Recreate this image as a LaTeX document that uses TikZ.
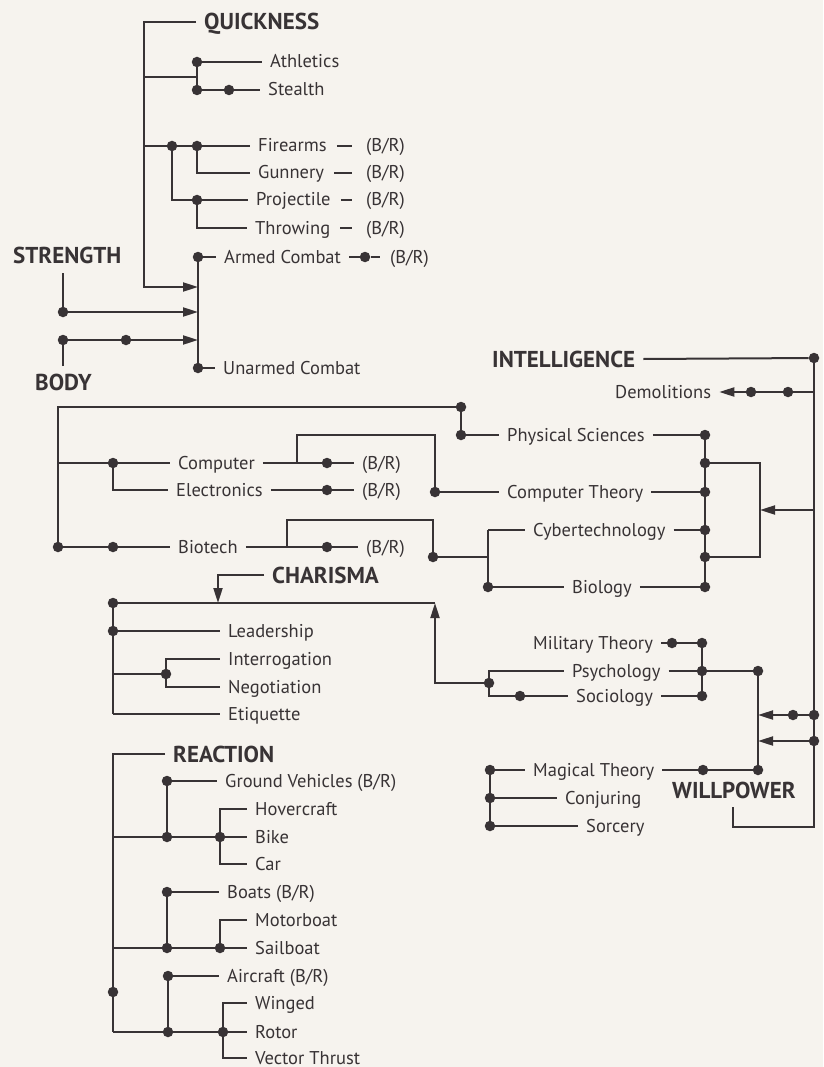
\documentclass[tikz,border=0pt]{standalone}
\usepackage{fontspec}
\setmainfont{PT Sans}
\usetikzlibrary{arrows.meta}
\definecolor{ink}{HTML}{383335}
\definecolor{paper}{HTML}{F6F3EE}
\begin{document}
\begin{tikzpicture}[x=1pt,y=-1pt,
  wire/.style={draw=ink, line width=2pt},
  arr/.style={wire, -{Triangle[length=15pt,width=9pt]}},
  dot/.style={circle, fill=ink, inner sep=0pt, minimum size=10.5pt},
  lbl/.style={anchor=west, inner xsep=8pt, inner ysep=0pt, text=ink, text height=12pt, text depth=0pt, font=\fontsize{18.5}{20}\selectfont},
  ttl/.style={anchor=west, inner xsep=8pt, inner ysep=0pt, text=ink, text height=16pt, text depth=0pt, font=\bfseries\fontsize{23}{26}\selectfont},
]
\fill[paper] (0,0) rectangle (823,1067);
\useasboundingbox (0,0) rectangle (823,1067);

% ================= QUICKNESS / STRENGTH / BODY =================
\node[ttl] (quick) at (196,22) {QUICKNESS};
\coordinate (qtop) at (144,22);
\coordinate (qbot) at (144,287);
\coordinate (cmb1) at (198,287);
\coordinate (cmb2) at (198,312);
\coordinate (cmb3) at (198,340);
\draw[arr] (quick.west) -- (qtop) -- (qbot) -- (cmb1);

\coordinate (q1) at (144,77);
\coordinate (q1j) at (197,77);
\node[dot] (dath) at (197,62) {};
\node[dot] (dste) at (197,90) {};
\node[dot] (dste2) at (229,90) {};
\node[lbl] (ath) at (262,62) {Athletics};
\node[lbl] (ste) at (260,90) {Stealth};
\draw[wire] (q1) -- (q1j);
\draw[wire] (dath) -- (dste);
\draw[wire] (dath) -- (ath.west);
\draw[wire] (dste) -- (dste2) -- (ste.west);

\coordinate (q2) at (144,146);
\node[dot] (dfa1) at (172,146) {};
\node[dot] (dfa2) at (197,146) {};
\node[dot] (dpro) at (197,200) {};
\node[lbl] (fire) at (250,146) {Firearms};
\node[lbl] (gun) at (250,173) {Gunnery};
\node[lbl] (pro) at (248,200) {Projectile};
\node[lbl] (thr) at (247,228) {Throwing};
\node[lbl] (firebr) at (358,146) {(B/R)};
\node[lbl] (gunbr) at (358,173) {(B/R)};
\node[lbl] (probr) at (358,200) {(B/R)};
\node[lbl] (thrbr) at (358,228) {(B/R)};
\draw[wire] (q2) -- (dfa1) -- (dfa2) -- (fire.west);
\draw[wire] (dfa2) |- (gun.west);
\draw[wire] (dfa1) |- (pro.west);
\draw[wire] (dpro) |- (thr.west);
\foreach \a/\b in {fire/firebr,gun/gunbr,pro/probr,thr/thrbr}
  \draw[wire, shorten <=2pt, shorten >=6pt] (\a.east) -- (\b.west);

\node[dot] (darm) at (198,257) {};
\node[dot] (dun) at (198,368) {};
\node[lbl] (arm) at (216,257) {Armed Combat};
\node[dot] (darm2) at (365,257) {};
\node[lbl] (armbr) at (382,257) {(B/R)};
\node[lbl] (unarm) at (215,368) {Unarmed Combat};
\draw[wire] (darm) -- (dun);
\draw[wire] (darm) -- (arm.west);
\draw[wire] (dun) -- (unarm.west);
\draw[wire, shorten <=1pt, shorten >=2pt] (arm.east) -- (darm2) -- (armbr.west);

\node[ttl] (str) at (5,255) {STRENGTH};
\coordinate (strb) at (63,273);
\node[dot] (dstr) at (63,312) {};
\draw[wire] (strb) -- (dstr);
\draw[arr] (dstr) -- (cmb2);

\node[ttl] (body) at (27,382) {BODY};
\coordinate (bodt) at (63,366);
\node[dot] (dbod) at (63,340) {};
\node[dot] (dbod2) at (126,340) {};
\draw[wire] (bodt) -- (dbod);
\draw[arr] (dbod) -- (dbod2) -- (cmb3);

% ================= INTELLIGENCE =================
\node[ttl] (intl) at (484,359) {INTELLIGENCE};
\node[dot] (dint) at (814,358) {};
\coordinate (rbot) at (814,827);
\coordinate (wbot) at (733,827);
\coordinate (wtop) at (733,807);
\draw[wire] (intl.east) -- (dint);
\draw[wire] (dint) -- (rbot) -- (wbot) -- (wtop);

\node[lbl] (demo) at (607,392) {Demolitions};
\coordinate (rdem) at (814,392);
\node[dot] (ddem2) at (788,392) {};
\node[dot] (ddem1) at (751,392) {};
\draw[arr] (rdem) -- (ddem2) -- (ddem1) -- (demo.east);

\coordinate (ltop) at (58,407);
\coordinate (lcomp) at (58,463);
\node[dot] (dlb) at (58,547) {};
\node[dot] (dps1) at (461,407) {};
\node[dot] (dps2) at (461,435) {};
\node[lbl] (phys) at (499,435) {Physical Sciences};
\draw[wire] (dlb) -- (ltop) -- (dps1) -- (dps2) -- (phys.west);

\node[dot] (dr1) at (705,435) {};
\node[dot] (dr2) at (705,463) {};
\node[dot] (dr3) at (705,492) {};
\node[dot] (dr4) at (705,530) {};
\node[dot] (dr5) at (705,557) {};
\node[dot] (dr6) at (705,587) {};
\draw[wire] (dr1) -- (dr6);
\draw[wire] (phys.east) -- (dr1);
\coordinate (bkt1) at (760,463);
\coordinate (bkt2) at (760,557);
\coordinate (bktm) at (760,510);
\coordinate (rbk) at (814,510);
\draw[wire] (dr2) -- (bkt1) -- (bkt2) -- (dr5);
\draw[arr] (rbk) -- (bktm);

\node[dot] (dct) at (435,492) {};
\node[lbl] (ct) at (499,492) {Computer Theory};
\draw[wire] (dct) -- (ct.west);
\draw[wire] (ct.east) -- (dr3);

\node[dot] (dcomp) at (113,463) {};
\node[lbl] (comp) at (170,463) {Computer};
\coordinate (cbr) at (297,463);
\coordinate (cup) at (297,435);
\coordinate (cup2) at (435,435);
\node[dot] (dcbr) at (327,463) {};
\node[lbl] (combr) at (354,463) {(B/R)};
\draw[wire] (lcomp) -- (dcomp) -- (comp.west);
\draw[wire] (comp.east) -- (cbr) -- (dcbr) -- (combr.west);
\draw[wire] (cbr) -- (cup) -- (cup2) -- (dct);

\node[lbl] (elec) at (168,490) {Electronics};
\node[dot] (delb) at (327,490) {};
\node[lbl] (elbr) at (354,490) {(B/R)};
\draw[wire] (dcomp) |- (elec.west);
\draw[wire] (elec.east) -- (delb) -- (elbr.west);

\node[dot] (dbio) at (113,547) {};
\node[lbl] (bio) at (170,547) {Biotech};
\coordinate (bbr) at (287,547);
\coordinate (bup) at (287,520);
\coordinate (bup2) at (433,520);
\node[dot] (dbbr) at (327,547) {};
\node[lbl] (biobr) at (358,547) {(B/R)};
\node[dot] (dcyb) at (433,557) {};
\draw[wire] (dlb) -- (dbio) -- (bio.west);
\draw[wire] (bio.east) -- (bbr) -- (dbbr) -- (biobr.west);
\draw[wire] (bbr) -- (bup) -- (bup2) -- (dcyb);

\coordinate (cybj) at (488,557);
\coordinate (cyt) at (488,530);
\node[dot] (dbiol) at (488,587) {};
\node[lbl] (cyb) at (525,530) {Cybertechnology};
\node[lbl] (biol) at (564,587) {Biology};
\draw[wire] (dcyb) -- (cybj);
\draw[wire] (cyt) -- (dbiol);
\draw[wire] (cyt) -- (cyb.west);
\draw[wire] (cyb.east) -- (dr4);
\draw[wire] (dbiol) -- (biol.west);
\draw[wire] (biol.east) -- (dr6);

% ================= CHARISMA =================
\node[ttl] (cha) at (264,575) {CHARISMA};
\coordinate (chaj) at (218,603);
\draw[arr] (cha.west) -| (chaj);
\node[dot] (dch) at (113,603) {};
\coordinate (chr) at (435,603);
\coordinate (chb) at (113,714);
\draw[wire] (dch) -- (chr);
\draw[wire] (dch) -- (chb);

\node[dot] (dlead) at (113,631) {};
\node[lbl] (lead) at (220,631) {Leadership};
\draw[wire] (dlead) -- (lead.west);
\coordinate (chi) at (113,674);
\node[dot] (dint2) at (166,674) {};
\node[lbl] (interr) at (220,659) {Interrogation};
\node[lbl] (nego) at (220,687) {Negotiation};
\node[lbl] (etiq) at (220,714) {Etiquette};
\draw[wire] (chi) -- (dint2);
\draw[wire] (dint2) |- (interr.west);
\draw[wire] (dint2) |- (nego.west);
\draw[wire] (chb) -- (etiq.west);

% ================= Psychology group / WILLPOWER =================
\node[dot] (dpsy) at (489,683) {};
\coordinate (psl) at (435,683);
\draw[arr] (dpsy) -- (psl) -- (chr);
\node[lbl] (psy) at (564,671) {Psychology};
\node[dot] (dsoc) at (520,696) {};
\node[lbl] (soc) at (568,696) {Sociology};
\draw[wire] (dpsy) |- (psy.west);
\draw[wire] (dpsy) |- (dsoc) -- (soc.west);

\node[lbl] (mil) at (525,643) {Military Theory};
\node[dot] (dmil) at (672,643) {};
\node[dot] (dmil2) at (702,643) {};
\node[dot] (dpsr) at (702,671) {};
\node[dot] (dsocr) at (702,696) {};
\draw[wire] (mil.east) -- (dmil) -- (dmil2);
\draw[wire] (dmil2) -- (dsocr);
\draw[wire] (psy.east) -- (dpsr);
\draw[wire] (soc.east) -- (dsocr);

\node[dot] (dw1) at (758,671) {};
\node[dot] (dw2) at (758,770) {};
\draw[wire] (dpsr) -- (dw1) -- (dw2);
\node[dot] (drw1) at (814,715) {};
\node[dot] (dw1b) at (793,715) {};
\coordinate (wa1) at (758,715);
\node[dot] (drw2) at (814,741) {};
\coordinate (wa2) at (758,741);
\draw[arr] (drw1) -- (dw1b) -- (wa1);
\draw[arr] (drw2) -- (wa2);

\node[lbl] (mag) at (525,770) {Magical Theory};
\node[dot] (dmag) at (703,770) {};
\draw[wire] (mag.east) -- (dmag) -- (dw2);
\node[dot] (dmg) at (490,770) {};
\node[dot] (dcon) at (490,798) {};
\node[dot] (dsor) at (490,826) {};
\node[lbl] (conj) at (557,798) {Conjuring};
\node[lbl] (sorc) at (578,826) {Sorcery};
\draw[wire] (dmg) -- (mag.west);
\draw[wire] (dmg) -- (dsor);
\draw[wire] (dcon) -- (conj.west);
\draw[wire] (dsor) -- (sorc.west);
\node[ttl] (will) at (664,790) {WILLPOWER};

% ================= REACTION =================
\node[ttl] (reac) at (165,754) {REACTION};
\coordinate (rtop) at (113,754);
\coordinate (rbot2) at (113,1032);
\draw[wire] (reac.west) -- (rtop) -- (rbot2);
\node[dot] (dr) at (113,992) {};

\coordinate (rg) at (113,837);
\node[dot] (dg1) at (167,837) {};
\node[dot] (dg2) at (220,837) {};
\node[dot] (dgv) at (167,781) {};
\node[lbl] (gv) at (217,781) {Ground Vehicles (B/R)};
\node[lbl] (hover) at (247,809) {Hovercraft};
\node[lbl] (bike) at (247,837) {Bike};
\node[lbl] (car) at (247,864) {Car};
\draw[wire] (rg) -- (dg1) -- (dg2) -- (bike.west);
\draw[wire] (dg1) -- (dgv) -- (gv.west);
\draw[wire] (dg2) |- (hover.west);
\draw[wire] (dg2) |- (car.west);

\coordinate (rb) at (113,948);
\node[dot] (db1) at (167,948) {};
\node[dot] (db2) at (220,948) {};
\node[dot] (dbt) at (167,892) {};
\node[lbl] (boats) at (219,892) {Boats (B/R)};
\node[lbl] (motor) at (247,920) {Motorboat};
\node[lbl] (sail) at (247,948) {Sailboat};
\draw[wire] (rb) -- (db1) -- (db2) -- (sail.west);
\draw[wire] (db1) -- (dbt) -- (boats.west);
\draw[wire] (db2) |- (motor.west);

\node[dot] (da1) at (168,1032) {};
\node[dot] (da2) at (223,1032) {};
\node[dot] (dac) at (168,976) {};
\node[lbl] (air) at (219,976) {Aircraft (B/R)};
\node[lbl] (wing) at (247,1003) {Winged};
\node[lbl] (rotor) at (247,1032) {Rotor};
\node[lbl] (vt) at (247,1058) {Vector Thrust};
\draw[wire] (rbot2) -- (da1) -- (da2) -- (rotor.west);
\draw[wire] (da1) -- (dac) -- (air.west);
\draw[wire] (da2) |- (wing.west);
\draw[wire] (da2) |- (vt.west);
\end{tikzpicture}
\end{document}
